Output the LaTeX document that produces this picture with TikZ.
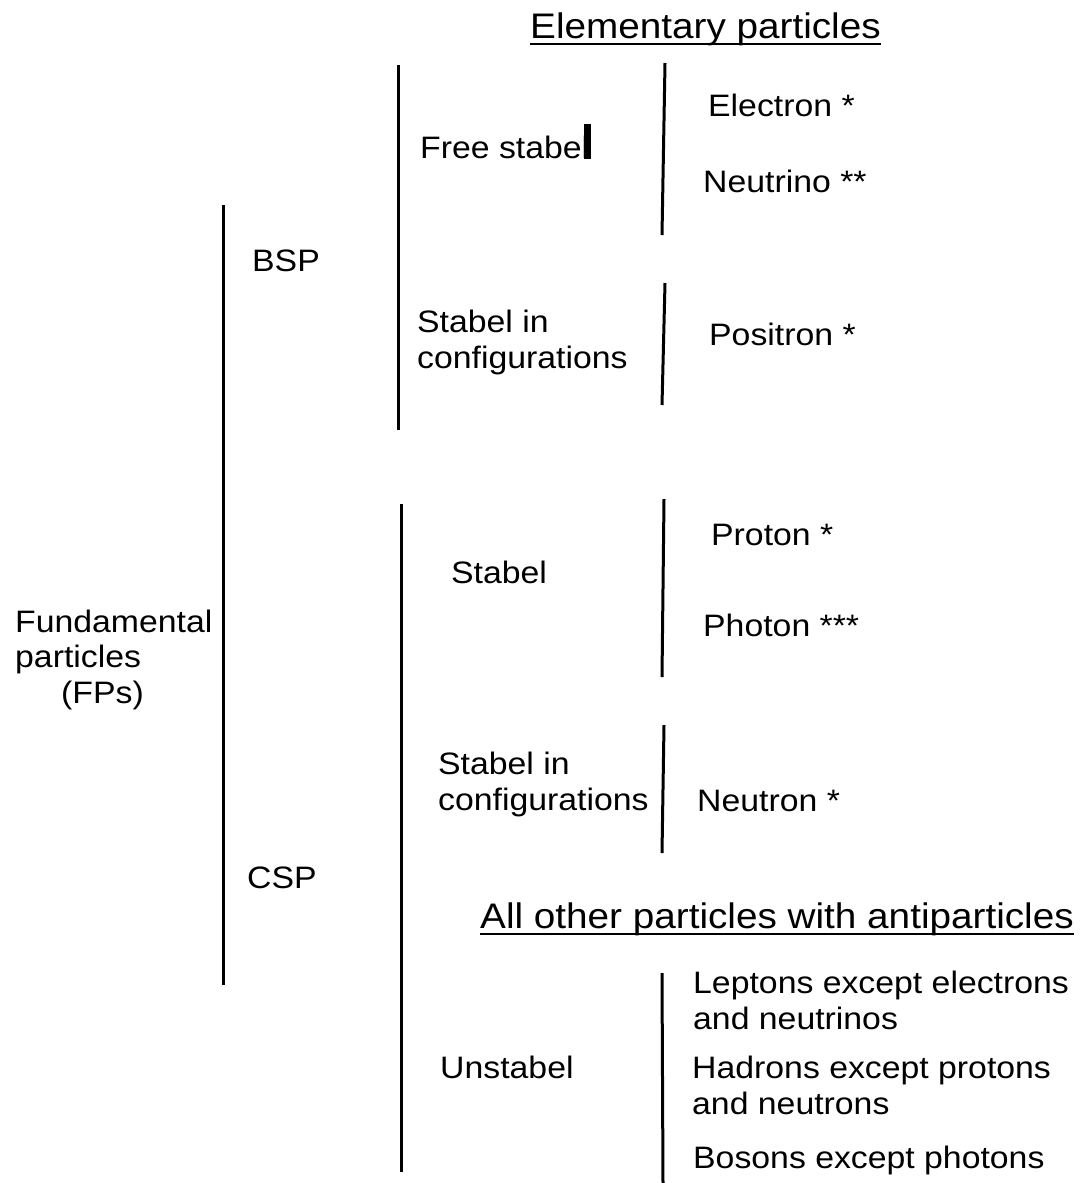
\documentclass[tikz,border=0pt]{standalone}
\usepackage{fontspec}
\setmainfont{Liberation Sans}[FakeStretch=1.09]
\begin{document}
\begin{tikzpicture}[x=1pt,y=-1pt,
  lbl/.style={anchor=base west, inner sep=0pt, align=left, font=\fontsize{31}{35.5}\selectfont},
  ttl/.style={anchor=base west, inner sep=0pt, font=\fontsize{35.5}{40}\selectfont},
  uline/.style={line width=2.4pt},
  brace/.style={line width=3pt}]
\useasboundingbox (0,0) rectangle (1083,1183);

% titles
\node[ttl] (elem) at (530,38) {Elementary particles};
\draw[uline] ([yshift=-6pt]elem.base west) -- ([yshift=-6pt]elem.base east);
\node[ttl] (other) at (480,928) {All other particles with antiparticles};
\draw[uline] ([yshift=-6pt]other.base west) -- ([yshift=-6pt]other.base east);

% level 0 (base anchor of a multi-line node = last line's baseline)
\node[lbl] (fp) at (15,703) {Fundamental\\particles\\\hspace*{46pt}(FPs)};
% level 1
\node[lbl] (bsp) at (252,271) {BSP};
\node[lbl] (csp) at (247,888) {CSP};
% level 2
\node[lbl] (free) at (420,158) {Free stabel};
\node[lbl] (sic1) at (417,368) {Stabel in\\configurations};
\node[lbl] (stab) at (451,583) {Stabel};
\node[lbl] (sic2) at (438,810) {Stabel in\\configurations};
\node[lbl] (unst) at (440,1078) {Unstabel};
% level 3
\node[lbl] (electron) at (708,116) {Electron *};
\node[lbl] (neutrino) at (703,192) {Neutrino **};
\node[lbl] (positron) at (709,345) {Positron *};
\node[lbl] (proton) at (711,545) {Proton *};
\node[lbl] (photon) at (703,636) {Photon ***};
\node[lbl] (neutron) at (697,811) {Neutron *};
\node[lbl] (lept) at (693,1029) {Leptons except electrons\\and neutrinos};
\node[lbl] (hadr) at (692,1114) {Hadrons except protons\\and neutrons};
\node[lbl] (boso) at (693,1168) {Bosons except photons};

% bracket bars
\coordinate (a1) at (223,205);  \coordinate (a2) at (223,985);
\coordinate (b1) at (398,65);   \coordinate (b2) at (398,430);
\coordinate (c1) at (665,63);   \coordinate (c2) at (662,235);
\coordinate (d1) at (665,283);  \coordinate (d2) at (662,405);
\coordinate (e1) at (401,504);  \coordinate (e2) at (401,1172);
\coordinate (f1) at (664,499);  \coordinate (f2) at (662,677);
\coordinate (g1) at (664,725);  \coordinate (g2) at (662,853);
\coordinate (h1) at (662,973);  \coordinate (h2) at (663,1183);
\draw[brace] (a1) -- (a2);
\draw[brace] (b1) -- (b2);
\draw[brace] (c1) -- (c2);
\draw[brace] (d1) -- (d2);
\draw[brace] (e1) -- (e2);
\draw[brace] (f1) -- (f2);
\draw[brace] (g1) -- (g2);
\draw[brace] (h1) -- (h2);

% small thick bar after "Free stabel"
\fill (584,124) rectangle (591,159);
\end{tikzpicture}
\end{document}
